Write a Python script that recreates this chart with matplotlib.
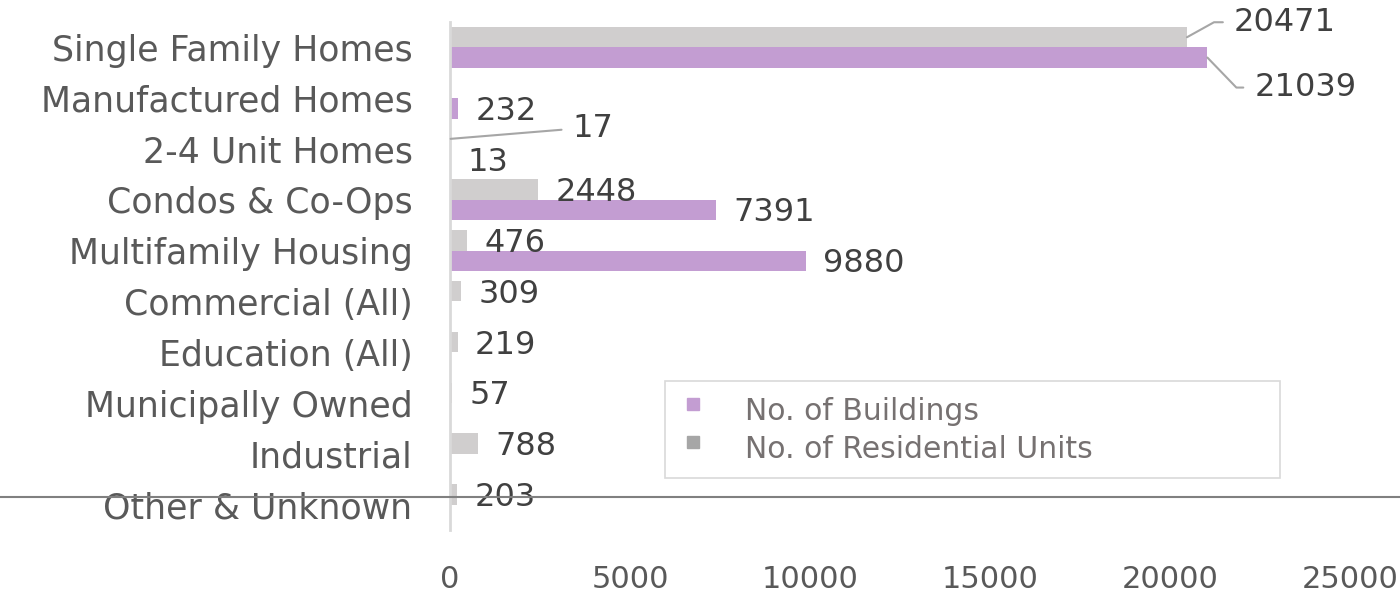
import numpy as np
import matplotlib.pyplot as plt
from matplotlib.patches import Rectangle
from matplotlib.lines import Line2D

# Data
categories = ['Single Family Homes', 'Manufactured Homes', '2-4 Unit Homes',
              'Condos & Co-Ops', 'Multifamily Housing', 'Commercial (All)',
              'Education (All)', 'Municipally Owned', 'Industrial', 'Other & Unknown']
buildings = [21039, 232, 13, 7391, 9880, None, None, None, None, None]
units = [20471, None, 17, 2448, 476, 309, 219, 57, 788, 203]
x_ticks = [0, 5000, 10000, 15000, 20000, 25000]

purple = '#C39DD2'
grey = '#D0CECE'
grey_legend = '#A6A6A6'
txt_dark = '#404040'
txt_mid = '#595959'

plt.rcParams['font.family'] = ['DejaVu Sans']

W, H = 1400, 599
fig = plt.figure(figsize=(W / 100, H / 100), dpi=100)
ax = fig.add_axes([450 / W, 1 - 530 / H, 900 / W, 508 / H])

b = np.array([np.nan if v is None else v for v in buildings], dtype=float)
u = np.array([np.nan if v is None else v for v in units], dtype=float)
y = np.arange(len(categories))
bh = 0.4

ax.barh(y - bh / 2, u, height=bh, color=grey)
ax.barh(y + bh / 2, b, height=bh, color=purple)

ax.set_xlim(0, 25000)
ax.set_ylim(len(categories) - 0.5, -0.5)

# special leader-line labels: (series, index) -> (dx, dy) in pixels, angleB
special = {
    ('u', 0): (47, 15, 29),
    ('b', 0): (47, -30, -46),
    ('u', 2): (122, 10, None),
}

def label(series, vals, ypos):
    for i, v in enumerate(vals):
        if np.isnan(v):
            continue
        key = (series, i)
        if key in special:
            dx, dy, ang = special[key]
            cs = 'arc3' if ang is None else f'angle,angleA=0,angleB={ang},rad=0'
            ax.annotate(f'{int(v)}', xy=(v, ypos[i]), xytext=(dx, dy),
                        textcoords='offset pixels', ha='left', va='center',
                        fontsize=23, color=txt_dark,
                        arrowprops=dict(arrowstyle='-', color='#A6A6A6', lw=1.5,
                                        shrinkA=6, shrinkB=0, relpos=(0, 0.5),
                                        connectionstyle=cs))
        else:
            ax.annotate(f'{int(v)}', xy=(v, ypos[i]), xytext=(17, -3),
                        textcoords='offset pixels', ha='left', va='center',
                        fontsize=23, color=txt_dark)

label('u', u, y - bh / 2)
label('b', b, y + bh / 2)

ax.set_yticks(y)
ax.set_yticklabels(categories, fontsize=25, color=txt_mid)
ax.set_xticks(x_ticks)
ax.set_xticklabels([str(t) for t in x_ticks], fontsize=22, color=txt_mid)
ax.tick_params(axis='both', length=0)
ax.tick_params(axis='y', pad=27)
ax.tick_params(axis='x', pad=25)

for s in ['top', 'right', 'bottom']:
    ax.spines[s].set_visible(False)
ax.spines['left'].set_color('#D9D9D9')
ax.spines['left'].set_linewidth(2)

# legend box
fig.add_artist(Rectangle((665 / W, 1 - 478 / H), 615 / W, 97 / H,
                         transform=fig.transFigure, facecolor='white',
                         edgecolor='#D9D9D9', lw=1.2))
leg_items = [('No. of Buildings', purple), ('No. of Residential Units', grey_legend)]
for k, (name, c) in enumerate(leg_items):
    yy = 1 - (408 + 38 * k) / H
    fig.add_artist(Line2D([693 / W], [yy + 4 / H], marker='s', markersize=9,
                          color=c, linestyle='none', transform=fig.transFigure))
    fig.text(745 / W, yy - 4 / H, name, fontsize=21.5, color='#767171',
             ha='left', va='center')

# stray horizontal line across the figure
fig.add_artist(Line2D([0, 1], [1 - 497 / H, 1 - 497 / H], color='#808080',
                      lw=1.5, transform=fig.transFigure))

fig.savefig('out.png', dpi=100)
